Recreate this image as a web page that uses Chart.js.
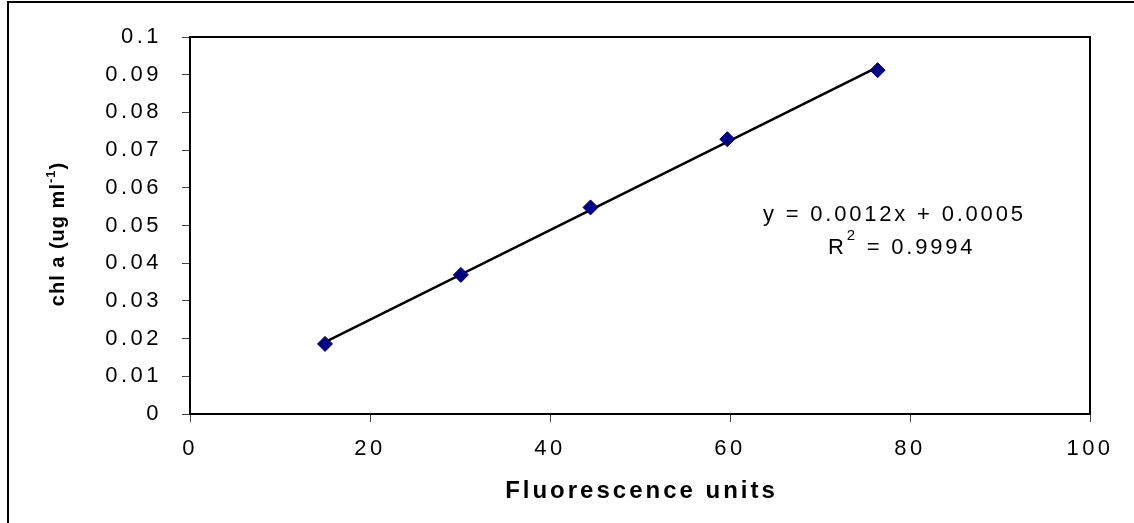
<!DOCTYPE html>
<html>
<head>
<meta charset="utf-8">
<script src="https://cdn.jsdelivr.net/npm/chart.js@4"></script>
<style>
  html, body { margin: 0; padding: 0; background: #fff; }
  #wrap { width: 1134px; height: 523px; position: relative; }
</style>
</head>
<body>
<div id="wrap"><canvas id="c" width="1134" height="523"></canvas></div>
<script>
// ---- data ----
const fluorescence = [15.0, 30.1, 44.5, 59.7, 76.4];
const chlA = [0.0186, 0.0369, 0.0548, 0.0729, 0.0912];
const xTickLabels = ['0', '20', '40', '60', '80', '100'];
const yTickLabels = ['0', '0.01', '0.02', '0.03', '0.04', '0.05', '0.06', '0.07', '0.08', '0.09', '0.1'];
const equationText = 'y = 0.0012x + 0.0005';
const r2Value = '0.9994';
const xTitle = 'Fluorescence units';

// least-squares trendline (as the spreadsheet does)
function fit(xs, ys) {
  const n = xs.length;
  const mx = xs.reduce((a, b) => a + b, 0) / n;
  const my = ys.reduce((a, b) => a + b, 0) / n;
  let sxy = 0, sxx = 0;
  for (let i = 0; i < n; i++) { sxy += (xs[i] - mx) * (ys[i] - my); sxx += (xs[i] - mx) ** 2; }
  const m = sxy / sxx;
  return { m, b: my - m * mx };
}
const lf = fit(fluorescence, chlA);
const xMin = Math.min(...fluorescence), xMax = Math.max(...fluorescence);
const trend = [{ x: xMin, y: lf.m * xMin + lf.b }, { x: xMax, y: lf.m * xMax + lf.b }];
const points = fluorescence.map((x, i) => ({ x, y: chlA[i] }));

const FONT = '"Liberation Sans", Arial, sans-serif';

const decor = {
  id: 'decor',
  beforeDraw(chart) {
    const ctx = chart.ctx;
    ctx.save();
    ctx.fillStyle = '#fff';
    ctx.fillRect(0, 0, chart.width, chart.height);
    // outer frame (extends beyond the right and bottom edges)
    ctx.strokeStyle = '#000';
    ctx.lineWidth = 2;
    ctx.strokeRect(8, 2, 2000, 2000);
    ctx.restore();
    ctx.letterSpacing = '3.5px';
  },
  beforeDatasetsDraw(chart) {
    const ctx = chart.ctx, a = chart.chartArea;
    ctx.save();
    ctx.strokeStyle = '#000';
    ctx.lineWidth = 2;
    ctx.strokeRect(a.left, a.top, a.right - a.left, a.bottom - a.top);
    ctx.restore();
  },
  afterDraw(chart) {
    const ctx = chart.ctx, a = chart.chartArea;
    ctx.save();
    ctx.fillStyle = '#000';
    ctx.textBaseline = 'alphabetic';
    ctx.textAlign = 'left';

    // x axis title
    ctx.font = 'bold 24px ' + FONT;
    ctx.letterSpacing = '3px';
    const tw = ctx.measureText(xTitle).width - 3;
    ctx.fillText(xTitle, (a.left + a.right) / 2 - tw / 2, 498);

    // y axis title, rotated, with superscript
    ctx.save();
    ctx.translate(64, 234);
    ctx.rotate(-Math.PI / 2);
    ctx.letterSpacing = '1px';
    const big = 'bold 20px ' + FONT, small = 'bold 13px ' + FONT;
    ctx.font = big; const w1 = ctx.measureText('chl a (ug ml').width;
    ctx.font = small; const w2 = ctx.measureText('-1').width;
    ctx.font = big; const w3 = ctx.measureText(')').width;
    let x0 = -(w1 + w2 + w3) / 2;
    ctx.font = big; ctx.fillText('chl a (ug ml', x0, 0); x0 += w1;
    ctx.font = small; ctx.fillText('-1', x0, -9); x0 += w2;
    ctx.font = big; ctx.fillText(')', x0, 0);
    ctx.restore();

    // regression equation
    ctx.font = '22px ' + FONT;
    ctx.letterSpacing = '2.8px';
    ctx.fillText(equationText, 763, 221);
    let rx = 828;
    ctx.fillText('R', rx, 254); rx += ctx.measureText('R').width;
    ctx.font = '15px ' + FONT;
    ctx.fillText('2', rx, 240); rx += ctx.measureText('2').width;
    ctx.font = '22px ' + FONT;
    ctx.fillText(' = ' + r2Value, rx, 254);
    ctx.restore();
  }
};

new Chart(document.getElementById('c'), {
  type: 'scatter',
  data: {
    datasets: [
      {
        type: 'line',
        label: 'trend',
        data: trend,
        borderColor: '#000',
        borderWidth: 2.5,
        pointRadius: 0,
        fill: false,
        order: 2
      },
      {
        label: 'chl a',
        data: points,
        pointStyle: 'rectRot',
        pointRadius: 7.5,
        pointHoverRadius: 7.5,
        backgroundColor: '#000080',
        borderColor: '#000080',
        borderWidth: 1,
        order: 1
      }
    ]
  },
  options: {
    responsive: false,
    animation: false,
    events: [],
    layout: { padding: { left: 0, top: 37, right: 44, bottom: 0 } },
    plugins: { legend: { display: false }, tooltip: { enabled: false } },
    scales: {
      x: {
        type: 'linear',
        min: 0, max: 100,
        afterFit(s) { s.height = 109; },
        afterBuildTicks(s) { s.ticks = xTickLabels.map(t => ({ value: Number(t) })); },
        ticks: {
          callback: (v, i) => xTickLabels[i],
          font: { family: FONT, size: 22 },
          color: '#000',
          padding: 14,
          maxRotation: 0
        },
        grid: { display: true, drawOnChartArea: false, drawTicks: true, tickLength: 8, color: '#444', lineWidth: 1 },
        border: { display: false }
      },
      y: {
        type: 'linear',
        min: 0, max: 0.1,
        afterFit(s) { s.width = 190; },
        afterBuildTicks(s) { s.ticks = yTickLabels.map(t => ({ value: Number(t) })); },
        ticks: {
          callback: (v, i) => yTickLabels[i],
          font: { family: FONT, size: 22 },
          color: '#000',
          padding: 20
        },
        grid: { display: true, drawOnChartArea: false, drawTicks: true, tickLength: 8, color: '#444', lineWidth: 1 },
        border: { display: false }
      }
    }
  },
  plugins: [decor]
});
</script>
</body>
</html>
